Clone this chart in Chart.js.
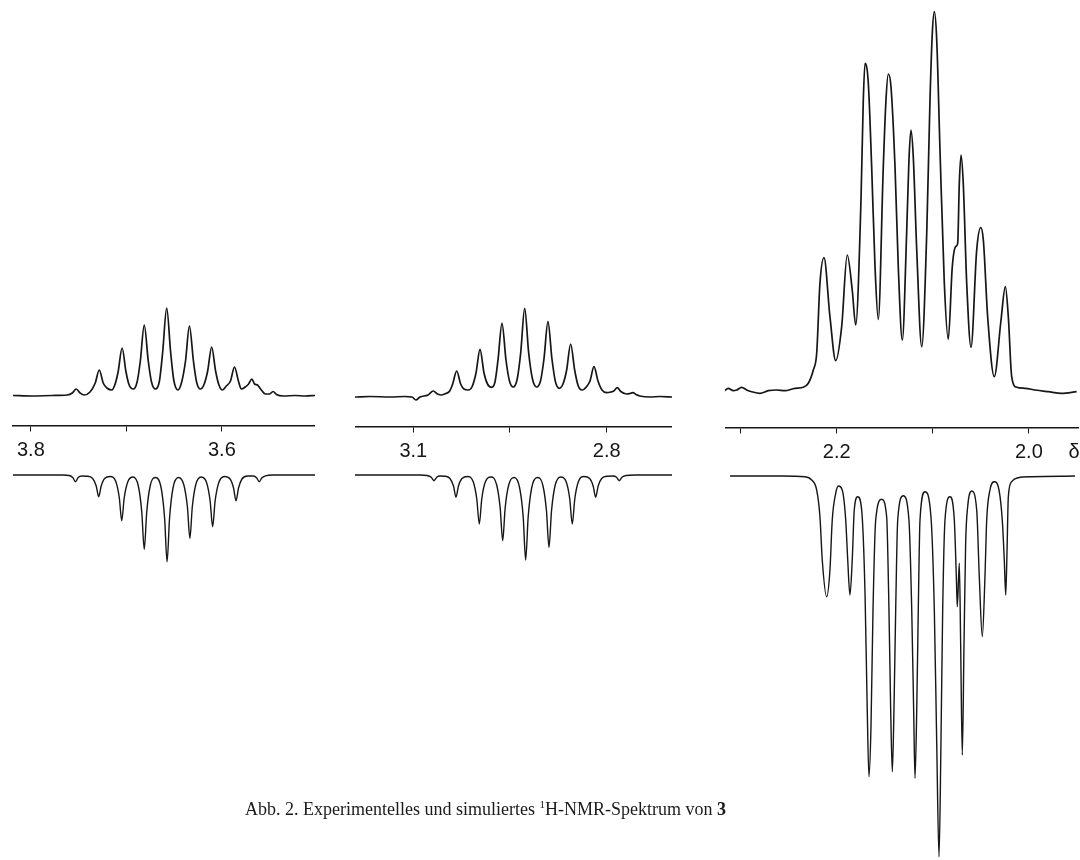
<!DOCTYPE html>
<html>
<head>
<meta charset="utf-8">
<script src="https://cdn.jsdelivr.net/npm/chart.js@4.4.1/dist/chart.umd.min.js"></script>
<style>
  body { margin: 0; background: #fff; width: 1080px; height: 860px; overflow: hidden; position: relative; }
  canvas { position: absolute; top: 0; }
  #caption {
    position: absolute; left: 245px; top: 800px;
    font-family: "Liberation Serif", "Times New Roman", serif;
    font-size: 18px; line-height: 18px; color: #1a1a1a; white-space: nowrap;
  }
  #caption sup { font-size: 11px; vertical-align: 7px; line-height: 0; }
</style>
</head>
<body>
<canvas id="p1" width="305" height="860" style="left:10px"></canvas>
<canvas id="p2" width="317" height="860" style="left:355px"></canvas>
<canvas id="p3" width="355" height="860" style="left:725px"></canvas>
<div id="caption">Abb. 2. Experimentelles und simuliertes <sup>1</sup>H-NMR-Spektrum von <b>3</b></div>

<script>
// chemical shift (ppm) and intensity
// panel 1: 3.8 - 3.5 ppm
const exp1Ppm = [3.8190, 3.7983, 3.7775, 3.7619, 3.7567, 3.7526, 3.7484, 3.7443, 3.7381, 3.7326, 3.7284, 3.7243, 3.7204, 3.7152, 3.7118, 3.7087, 3.7045, 3.7004, 3.6971, 3.6927, 3.6888, 3.6854, 3.6813, 3.6771, 3.6737, 3.6696, 3.6654, 3.6620, 3.6578, 3.6537, 3.6504, 3.6460, 3.6421, 3.6381, 3.6340, 3.6298, 3.6265, 3.6225, 3.6185, 3.6149, 3.6107, 3.6066, 3.6031, 3.5993, 3.5954, 3.5910, 3.5868, 3.5827, 3.5796, 3.5756, 3.5720, 3.5686, 3.5658, 3.5627, 3.5595, 3.5544, 3.5502, 3.5464, 3.5429, 3.5357, 3.5232, 3.5128, 3.5025];
const exp1Int = [0.5, 0, 0.5, 1, 3, 7, 3, 1, 4, 13, 26, 13, 8, 6, 12, 24, 48, 24, 11, 7, 14, 35, 71, 35, 14, 7, 15, 44, 88, 44, 16, 6, 14, 35, 70, 35, 14, 7, 12, 25, 49, 25, 11, 6, 10, 15, 29, 15, 7, 9, 12, 17, 12, 11, 7, 2, 2, 4.5, 1.5, 0, 0.5, 0, 0.5];
const sim1Ppm = [3.8190, 3.7879, 3.7671, 3.7599, 3.7562, 3.7533, 3.7505, 3.7464, 3.7412, 3.7353, 3.7316, 3.7290, 3.7264, 3.7228, 3.7170, 3.7111, 3.7074, 3.7049, 3.7023, 3.6986, 3.6931, 3.6875, 3.6839, 3.6813, 3.6787, 3.6751, 3.6694, 3.6636, 3.6600, 3.6574, 3.6548, 3.6512, 3.6455, 3.6398, 3.6361, 3.6335, 3.6310, 3.6273, 3.6216, 3.6159, 3.6123, 3.6097, 3.6071, 3.6034, 3.5974, 3.5914, 3.5878, 3.5852, 3.5826, 3.5790, 3.5730, 3.5668, 3.5635, 3.5609, 3.5583, 3.5544, 3.5471, 3.5284, 3.5025];
const sim1Int = [0, 0, 0, 0.5, 2.5, 6.7, 2.5, 1, 1.2, 3.5, 11, 21.7, 11, 3.5, 1.5, 6.5, 23, 45.7, 23, 7, 2, 11, 37, 74.3, 37, 11, 2.5, 13, 43, 86.7, 43, 13, 2.5, 10, 32, 63.3, 32, 9.5, 2, 8, 26, 51.7, 26, 8, 1.5, 4, 13, 25.7, 13, 4, 1, 1, 3, 6.7, 3, 0.8, 0, 0, 0];
const ticks1 = [3.8, 3.7, 3.6];
const labels1 = ['3.8', '', '3.6'];

// panel 2: 3.2 - 2.7 ppm
const exp2Ppm = [3.1904, 3.1672, 3.1361, 3.1129, 3.1020, 3.0958, 3.0896, 3.0772, 3.0690, 3.0625, 3.0560, 3.0493, 3.0435, 3.0389, 3.0327, 3.0265, 3.0214, 3.0147, 3.0090, 3.0027, 2.9965, 2.9903, 2.9849, 2.9784, 2.9733, 2.9686, 2.9624, 2.9562, 2.9508, 2.9449, 2.9388, 2.9334, 2.9272, 2.9210, 2.9151, 2.9086, 2.9027, 2.8973, 2.8911, 2.8849, 2.8794, 2.8735, 2.8678, 2.8621, 2.8559, 2.8497, 2.8441, 2.8379, 2.8317, 2.8259, 2.8197, 2.8135, 2.8073, 2.8000, 2.7934, 2.7890, 2.7836, 2.7781, 2.7690, 2.7639, 2.7592, 2.7546, 2.7484, 2.7329, 2.7173, 2.6987];
const exp2Int = [0, 0.5, 0, 0.5, 0, -3, 0, 2, 6, 3, 2, 3.5, 6, 13, 26, 13, 8, 7, 10, 24, 47.7, 24, 13, 9.7, 15, 37, 73.7, 37, 16, 10, 18, 44, 88.7, 44, 18, 10, 16, 38, 75.3, 38, 15, 8.7, 13, 27, 53, 27, 11, 7, 10, 16, 30.3, 16, 7, 4.3, 5, 6, 9.3, 5.5, 3, 3.5, 4.3, 2.5, 1, 0, 0.5, 0];
const sim2Ppm = [3.1904, 3.1361, 3.0896, 3.0788, 3.0721, 3.0679, 3.0637, 3.0586, 3.0508, 3.0431, 3.0376, 3.0338, 3.0299, 3.0245, 3.0156, 3.0069, 3.0015, 2.9976, 2.9938, 2.9883, 2.9795, 2.9706, 2.9652, 2.9613, 2.9575, 2.9520, 2.9435, 2.9350, 2.9295, 2.9257, 2.9218, 2.9164, 2.9077, 2.8988, 2.8934, 2.8895, 2.8856, 2.8802, 2.8714, 2.8627, 2.8573, 2.8534, 2.8495, 2.8441, 2.8352, 2.8264, 2.8210, 2.8171, 2.8132, 2.8078, 2.7988, 2.7902, 2.7847, 2.7805, 2.7763, 2.7701, 2.7561, 2.6987];
const sim2Int = [0, 0, 0, 0.5, 2.3, 5.7, 2.3, 1, 1.2, 3.5, 11, 22.3, 11, 3.5, 1.5, 7, 24, 49, 24, 7, 2, 10, 33, 65.7, 33, 10, 2.5, 13, 42, 85, 42, 13, 2.5, 11, 36, 72.3, 36, 11, 2, 7, 24, 49, 24, 7, 1.5, 3.5, 11, 22.3, 11, 3.5, 1.2, 1, 2.3, 5.7, 2.3, 0.5, 0, 0];
const ticks2 = [3.1, 2.95, 2.8];
const labels2 = ['3.1', '', '2.8'];

// panel 3: 2.3 - 1.95 ppm
const exp3Ppm = [2.3180, 2.3128, 2.3076, 2.3040, 2.2989, 2.2936, 2.2884, 2.2798, 2.2712, 2.2624, 2.2538, 2.2434, 2.2347, 2.2295, 2.2243, 2.2208, 2.2174, 2.2132, 2.2070, 2.2010, 2.1948, 2.1890, 2.1838, 2.1802, 2.1747, 2.1723, 2.1705, 2.1671, 2.1636, 2.1601, 2.1567, 2.1515, 2.1487, 2.1463, 2.1435, 2.1393, 2.1359, 2.1317, 2.1272, 2.1248, 2.1227, 2.1203, 2.1167, 2.1115, 2.1063, 2.1029, 2.1005, 2.0984, 2.0959, 2.0925, 2.0880, 2.0839, 2.0797, 2.0762, 2.0741, 2.0724, 2.0706, 2.0683, 2.0647, 2.0602, 2.0543, 2.0501, 2.0474, 2.0429, 2.0360, 2.0290, 2.0245, 2.0214, 2.0179, 2.0127, 2.0040, 1.9936, 1.9798, 1.9659, 1.9503];
const exp3Int = [0.3, 3.7, 1.3, 2, 4.7, 2, 0.3, -1.3, 1.3, 2, 1.3, 3.7, 4.7, 8.7, 22, 38.7, 108.7, 134.3, 75.3, 31.3, 65.3, 137, 102, 67, 192, 292, 328.7, 309, 225.3, 125.3, 72.7, 225.3, 292, 318, 305.3, 225.3, 125.3, 52, 158.7, 232, 262, 235.3, 142, 45.3, 158.7, 292, 358.7, 380.3, 352, 242, 108.7, 52.7, 125.3, 145.3, 148.7, 208.7, 237, 208.7, 108.7, 44.7, 142, 164.3, 152, 75.3, 15.3, 72, 105.3, 75.3, 15.3, 4.7, 3.7, 2, 0.3, -1.3, 0.3];
const sim3Ppm = [2.3110, 2.2572, 2.2330, 2.2260, 2.2208, 2.2174, 2.2150, 2.2104, 2.2070, 2.2046, 2.2010, 2.1983, 2.1942, 2.1906, 2.1885, 2.1862, 2.1838, 2.1817, 2.1781, 2.1740, 2.1705, 2.1682, 2.1664, 2.1643, 2.1622, 2.1594, 2.1532, 2.1480, 2.1456, 2.1438, 2.1421, 2.1404, 2.1386, 2.1365, 2.1307, 2.1248, 2.1219, 2.1199, 2.1185, 2.1167, 2.1151, 2.1133, 2.1081, 2.1019, 2.0984, 2.0959, 2.0935, 2.0915, 2.0897, 2.0873, 2.0821, 2.0776, 2.0755, 2.0745, 2.0724, 2.0710, 2.0693, 2.0675, 2.0658, 2.0637, 2.0595, 2.0543, 2.0516, 2.0485, 2.0457, 2.0439, 2.0405, 2.0360, 2.0311, 2.0277, 2.0256, 2.0241, 2.0228, 2.0214, 2.0179, 2.0110, 1.9971, 1.9520];
const sim3Int = [0, 0, 0.7, 4, 14, 40.7, 84, 120.7, 94, 44, 17.3, 10, 14, 44, 84, 119, 84, 34, 20.7, 34, 117.3, 234, 300.7, 250.7, 134, 44, 23.3, 40.7, 134, 234, 295.7, 234, 134, 44, 19.7, 44, 134, 234, 302.3, 234, 134, 44, 15.7, 40.7, 134, 267.3, 380.7, 267.3, 134, 44, 20.7, 44, 100.7, 130.7, 87.3, 167.3, 279, 167.3, 67.3, 30.7, 15, 34, 100.7, 160.7, 100.7, 44, 14, 5.7, 14, 44, 84, 119, 77.3, 20.7, 5.7, 1.7, 0.7, 0];
const ticks3 = [2.3, 2.2, 2.1, 2.0];
const labels3 = ['', '2.2', '', '2.0'];

const H = 860;
const ink = '#161616';
const labelFont = { family: '"Liberation Sans", Arial, sans-serif', size: 20 };

// the "δ" unit sign at the right end of the last axis
const deltaSign = {
  id: 'deltaSign',
  afterDraw(chart) {
    const ctx = chart.ctx;
    ctx.save();
    ctx.fillStyle = ink;
    ctx.font = '20px "Liberation Sans", Arial, sans-serif';
    ctx.textAlign = 'center';
    ctx.textBaseline = 'middle';
    ctx.fillText('δ', chart.width - 6, 452);
    ctx.restore();
  }
};

function pairs(xs, ys) {
  const n = Math.min(xs.length, ys.length);
  const out = [];
  for (let i = 0; i < n; i++) out.push({ x: xs[i], y: ys[i] });
  return out;
}

function drawPanel(id, p, expPpm, expInt, simPpm, simInt, tickVals, tickLabels) {
  new Chart(document.getElementById(id), {
    type: 'line',
    data: {
      datasets: [
        { data: pairs(expPpm, expInt), yAxisID: 'y', borderWidth: 1.7 },
        { data: pairs(simPpm, simInt), yAxisID: 'ysim', borderWidth: 1.4 }
      ]
    },
    options: {
      responsive: false,
      animation: false,
      events: [],
      layout: { padding: { right: p.padRight || 0 } },
      plugins: { legend: { display: false }, tooltip: { enabled: false } },
      elements: {
        point: { radius: 0 },
        line: { borderColor: ink, fill: false, cubicInterpolationMode: 'monotone' }
      },
      scales: {
        x: {
          type: 'linear',
          min: p.min,
          max: p.max,
          reverse: true,
          position: { y: p.expBase - p.axisY },
          afterBuildTicks: s => { s.ticks = tickVals.map(v => ({ value: v })); },
          ticks: {
            callback: (v, i) => tickLabels[i],
            autoSkip: false,
            maxRotation: 0,
            padding: 7,
            color: ink,
            font: labelFont
          },
          grid: { drawOnChartArea: false, tickLength: 5, tickWidth: 1, tickColor: ink },
          border: { color: ink, width: 1.5 }
        },
        y: { type: 'linear', axis: 'y', display: false, min: p.expBase - H, max: p.expBase },
        ysim: { type: 'linear', axis: 'y', display: false, reverse: true, min: -p.simBase, max: H - p.simBase }
      }
    },
    plugins: p.delta ? [deltaSign] : []
  });
}

drawPanel('p1', { min: 3.5025, max: 3.8190, expBase: 396, simBase: 475, axisY: 426 },
  exp1Ppm, exp1Int, sim1Ppm, sim1Int, ticks1, labels1);
drawPanel('p2', { min: 2.6987, max: 3.1904, expBase: 397, simBase: 475, axisY: 427 },
  exp2Ppm, exp2Int, sim2Ppm, sim2Int, ticks2, labels2);
drawPanel('p3', { min: 1.9489, max: 2.3162, expBase: 392, simBase: 476, axisY: 428, padRight: 2, delta: true },
  exp3Ppm, exp3Int, sim3Ppm, sim3Int, ticks3, labels3);
</script>
</body>
</html>
